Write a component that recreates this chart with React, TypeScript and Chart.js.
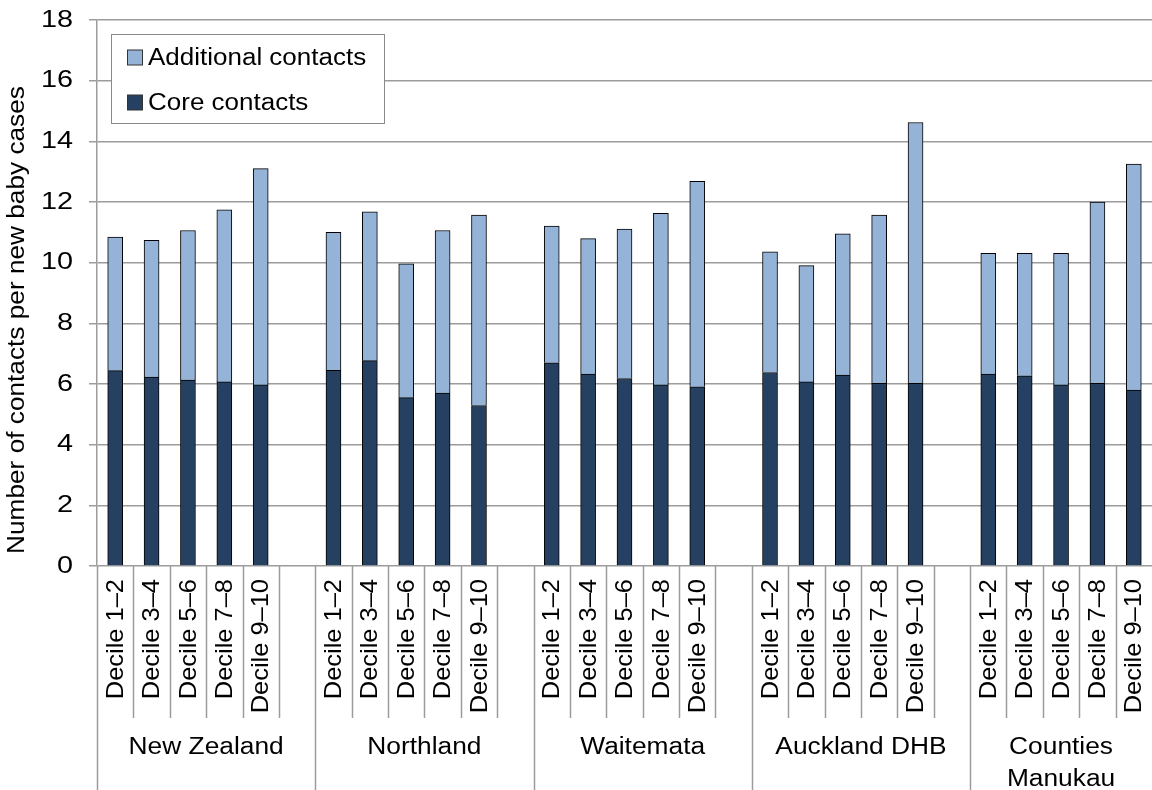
import React, { useEffect, useRef } from "react";
import { Chart, registerables } from "chart.js";

Chart.register(...registerables);

// Regions shown along the x axis (multi-line names as arrays)
const regions: (string | string[])[] = [
  "New Zealand",
  "Northland",
  "Waitemata",
  "Auckland DHB",
  ["Counties", "Manukau"],
];

// Deprivation deciles within each region
const deciles = ["Decile 1–2", "Decile 3–4", "Decile 5–6", "Decile 7–8", "Decile 9–10"];

// Core contacts per new baby case, by region then decile
const coreNewZealand = [6.44, 6.23, 6.13, 6.07, 5.97];
const coreNorthland = [6.45, 6.77, 5.55, 5.7, 5.29];
const coreWaitemata = [6.7, 6.33, 6.18, 5.97, 5.91];
const coreAuckland = [6.38, 6.07, 6.29, 6.02, 6.02];
const coreCounties = [6.33, 6.27, 5.97, 6.02, 5.8];

// Additional contacts per new baby case, by region then decile
const addNewZealand = [4.4, 4.51, 4.93, 5.67, 7.13];
const addNorthland = [4.55, 4.91, 4.41, 5.36, 6.28];
const addWaitemata = [4.51, 4.46, 4.93, 5.66, 6.77];
const addAuckland = [3.98, 3.83, 4.66, 5.55, 8.6];
const addCounties = [3.98, 4.04, 4.34, 5.98, 7.45];

// Y axis ticks
const yTicks = [0, 2, 4, 6, 8, 10, 12, 14, 16, 18];

const seriesNames = ["Additional contacts", "Core contacts"];
const COLOR_ADD = "#95B3D7";
const COLOR_CORE = "#264061";
const GRID = "#9c9c9c";
const FONT = '"Liberation Sans", Arial, sans-serif';

const coreByRegion = [coreNewZealand, coreNorthland, coreWaitemata, coreAuckland, coreCounties];
const addByRegion = [addNewZealand, addNorthland, addWaitemata, addAuckland, addCounties];

// Flatten into category slots; a blank slot separates consecutive regions
const labels: string[] = [];
const coreData: (number | null)[] = [];
const addData: (number | null)[] = [];
const regionStart: number[] = [];
regions.forEach((_, g) => {
  regionStart.push(labels.length);
  deciles.forEach((d, i) => {
    labels.push(d);
    coreData.push(coreByRegion[g][i]);
    addData.push(addByRegion[g][i]);
  });
  if (g < regions.length - 1) {
    labels.push("");
    coreData.push(null);
    addData.push(null);
  }
});

function drawText(
  ctx: CanvasRenderingContext2D,
  s: string,
  x: number,
  y: number,
  size: number,
  stretch: number,
  rot: number,
  align: CanvasTextAlign
) {
  ctx.save();
  ctx.translate(x, y);
  if (rot) ctx.rotate(rot);
  ctx.scale(stretch, 1);
  ctx.font = `${size}px ${FONT}`;
  ctx.textAlign = align;
  ctx.textBaseline = "middle";
  ctx.fillStyle = "#000";
  ctx.fillText(s, 0, 0);
  ctx.restore();
}

const decorations = {
  id: "decorations",
  afterDraw(chart: any) {
    const ctx: CanvasRenderingContext2D = chart.ctx;
    const xs = chart.scales.x;
    const ys = chart.scales.y;
    const area = chart.chartArea;
    const n = labels.length;
    const slot = (area.right - area.left) / n;
    const edge = (k: number) => xs.getPixelForValue(k) - slot / 2;
    const H = chart.height;

    // y tick labels
    yTicks.forEach((v) => {
      drawText(ctx, String(v), 73, ys.getPixelForValue(v), 24, 1.2, 0, "right");
    });

    // y axis title
    drawText(ctx, "Number of contacts per new baby cases", 18, 320, 23, 1.14, -Math.PI / 2, "center");

    // category dividers
    ctx.save();
    ctx.strokeStyle = GRID;
    ctx.lineWidth = 1.5;
    ctx.beginPath();
    regionStart.forEach((s, g) => {
      const xl = Math.round(edge(s)) + 0.5;
      ctx.moveTo(xl, area.bottom);
      ctx.lineTo(xl, H);
      for (let k = 1; k <= deciles.length; k++) {
        if (s + k >= n) break;
        const xk = Math.round(edge(s + k)) + 0.5;
        ctx.moveTo(xk, area.bottom);
        ctx.lineTo(xk, 718);
      }
    });
    ctx.stroke();
    ctx.restore();

    // decile labels, rotated
    labels.forEach((lab, i) => {
      if (!lab) return;
      drawText(ctx, lab, xs.getPixelForValue(i) + 1, 579, 24, 1.06, -Math.PI / 2, "right");
    });

    // region labels
    regions.forEach((r, g) => {
      const s = regionStart[g];
      const e = g < regions.length - 1 ? regionStart[g + 1] : n;
      const cx = (edge(s) + edge(e)) / 2;
      const lines = Array.isArray(r) ? r : [r];
      lines.forEach((ln, j) => {
        drawText(ctx, ln, cx, 748 + j * 32, 23, 1.145, 0, "center");
      });
    });

    // legend
    ctx.save();
    ctx.fillStyle = "#fff";
    ctx.strokeStyle = "#8a8a8a";
    ctx.lineWidth = 1;
    ctx.fillRect(111.5, 34.5, 273, 89);
    ctx.strokeRect(111.5, 34.5, 273, 89);
    const swatches = [COLOR_ADD, COLOR_CORE];
    seriesNames.forEach((name, i) => {
      const cy = 57.5 + i * 45;
      ctx.fillStyle = swatches[i];
      ctx.fillRect(127.5, cy - 7.5, 15, 15);
      ctx.strokeStyle = "#333";
      ctx.strokeRect(127.5, cy - 7.5, 15, 15);
      drawText(ctx, name, 148, cy + 1, 23, 1.13, 0, "left");
    });
    ctx.restore();
  },
};

export default function App() {
  const ref = useRef<HTMLCanvasElement>(null);

  useEffect(() => {
    if (!ref.current) return;
    const chart = new Chart(ref.current, {
      type: "bar",
      data: {
        labels,
        datasets: [
          {
            label: seriesNames[1],
            data: coreData,
            backgroundColor: COLOR_CORE,
            borderColor: "#000",
            borderWidth: 1,
            barThickness: 15,
          },
          {
            label: seriesNames[0],
            data: addData,
            backgroundColor: COLOR_ADD,
            borderColor: "#000",
            borderWidth: 1,
            barThickness: 15,
          },
        ],
      },
      options: {
        responsive: false,
        animation: false,
        layout: { padding: { top: 20, bottom: 224, left: 0, right: 0 } },
        plugins: {
          legend: { display: false },
          tooltip: { enabled: false },
        },
        scales: {
          x: {
            stacked: true,
            display: false,
          },
          y: {
            stacked: true,
            min: 0,
            max: 18,
            ticks: { stepSize: 2, display: false },
            grid: { color: GRID, lineWidth: 1.5, tickLength: 8, drawTicks: true },
            border: { display: true, color: GRID, width: 1.5 },
            afterFit: (s: any) => {
              s.width = 97;
            },
          },
        },
      },
      plugins: [decorations],
    });
    return () => chart.destroy();
  }, []);

  return (
    <div style={{ position: "fixed", left: 0, top: 0, width: 1152, height: 790, background: "#fff" }}>
      <canvas ref={ref} width={1152} height={790} />
    </div>
  );
}
